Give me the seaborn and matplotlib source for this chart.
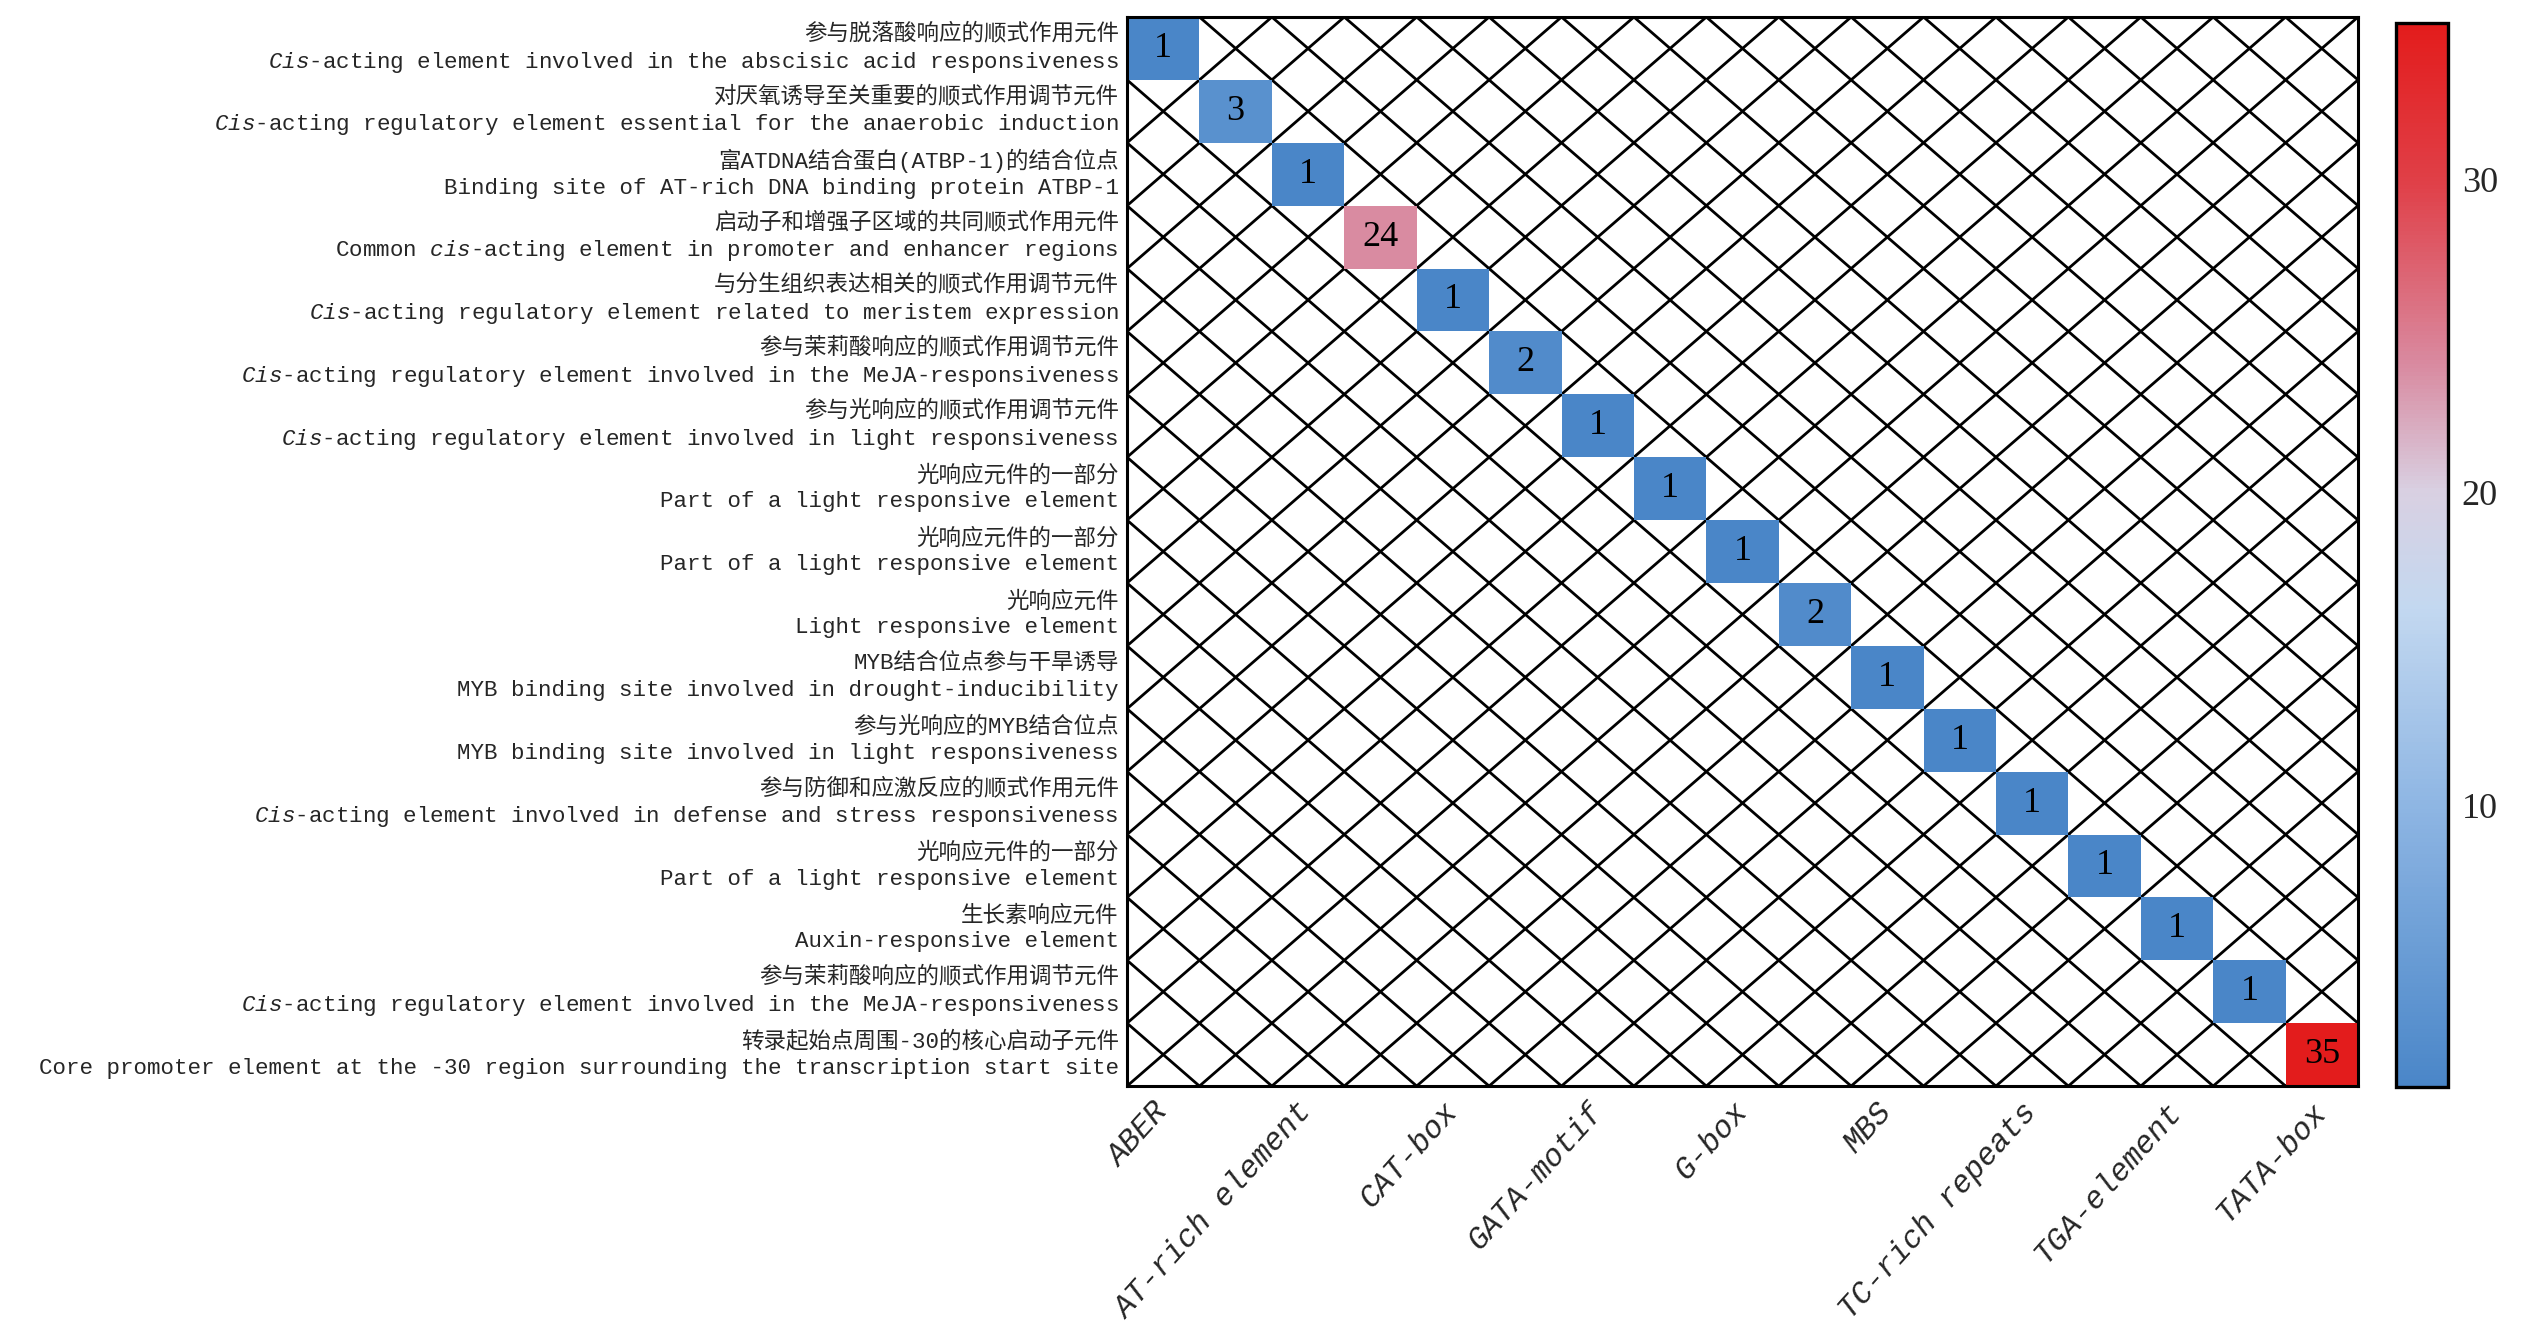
import numpy as np
import pandas as pd
import matplotlib
matplotlib.use("Agg")
import matplotlib.pyplot as plt
import seaborn as sns
from matplotlib.colors import LinearSegmentedColormap

# column names (only every second one is labelled on the x axis)
elements = ["ABER", "ARE", "AT-rich element", "CAAT-box", "CAT-box",
            "CGTCA-motif", "GATA-motif", "G-Box", "G-box", "GT1-motif",
            "MBS", "MRE", "TC-rich repeats", "TCT-motif", "TGA-element",
            "TGACG-motif", "TATA-box"]

counts = [1, 3, 1, 24, 1, 2, 1, 1, 1, 2, 1, 1, 1, 1, 1, 1, 35]

desc_cn = ["参与脱落酸响应的顺式作用元件",
           "对厌氧诱导至关重要的顺式作用调节元件",
           "富ATDNA结合蛋白(ATBP-1)的结合位点",
           "启动子和增强子区域的共同顺式作用元件",
           "与分生组织表达相关的顺式作用调节元件",
           "参与茉莉酸响应的顺式作用调节元件",
           "参与光响应的顺式作用调节元件",
           "光响应元件的一部分",
           "光响应元件的一部分",
           "光响应元件",
           "MYB结合位点参与干旱诱导",
           "参与光响应的MYB结合位点",
           "参与防御和应激反应的顺式作用元件",
           "光响应元件的一部分",
           "生长素响应元件",
           "参与茉莉酸响应的顺式作用调节元件",
           "转录起始点周围-30的核心启动子元件"]

desc_en = [r"$\mathit{Cis}$-acting element involved in the abscisic acid responsiveness",
           r"$\mathit{Cis}$-acting regulatory element essential for the anaerobic induction",
           "Binding site of AT-rich DNA binding protein ATBP-1",
           r"Common $\mathit{cis}$-acting element in promoter and enhancer regions",
           r"$\mathit{Cis}$-acting regulatory element related to meristem expression",
           r"$\mathit{Cis}$-acting regulatory element involved in the MeJA-responsiveness",
           r"$\mathit{Cis}$-acting regulatory element involved in light responsiveness",
           "Part of a light responsive element",
           "Part of a light responsive element",
           "Light responsive element",
           "MYB binding site involved in drought-inducibility",
           "MYB binding site involved in light responsiveness",
           r"$\mathit{Cis}$-acting element involved in defense and stress responsiveness",
           "Part of a light responsive element",
           "Auxin-responsive element",
           r"$\mathit{Cis}$-acting regulatory element involved in the MeJA-responsiveness",
           "Core promoter element at the -30 region surrounding the transcription start site"]

row_labels = [c + "\n" + e for c, e in zip(desc_cn, desc_en)]

# one element per row, everything else empty
mat = np.full((len(row_labels), len(elements)), np.nan)
for i, v in enumerate(counts):
    mat[i, i] = v
df = pd.DataFrame(mat, index=row_labels, columns=elements)

sns.set_style("white")
plt.rcParams['font.family'] = ['Liberation Mono', 'Noto Sans CJK SC']
plt.rcParams['mathtext.fontset'] = 'custom'
plt.rcParams['mathtext.rm'] = 'Liberation Mono'
plt.rcParams['mathtext.it'] = 'Liberation Mono:italic'

cmap = LinearSegmentedColormap.from_list("bwr_soft", [
    (0.0, "#4a86c8"),
    (0.26, "#8db5e3"),
    (0.45, "#c3d8f0"),
    (0.56, "#d9d0e2"),
    (0.68, "#d98aa0"),
    (0.85, "#e04048"),
    (1.0, "#e31c1c")])

fig = plt.figure(figsize=(2547 / 200, 1329 / 200), dpi=200)
ax = fig.add_axes([0.4425, 0.1828, 0.4833, 0.8044])
cax = fig.add_axes([0.9407, 0.1821, 0.0204, 0.8006])

sns.heatmap(df, ax=ax, cbar_ax=cax, cmap=cmap, vmin=1, vmax=35,
            annot=True, fmt=".0f",
            annot_kws={"color": "black", "family": "Liberation Serif", "size": 13},
            xticklabels=2, yticklabels=True,
            cbar_kws={"ticks": [10, 20, 30]})

# diagonal cross lines through every cell corner
nr, nc = df.shape
for k in range(-nc, nr + 1):
    ax.axline((k, 0), slope=1, color="black", lw=1.0, zorder=0.5)
for k in range(0, nr + nc + 1):
    ax.axline((k, 0), slope=-1, color="black", lw=1.0, zorder=0.5)
ax.set_xlim(0, nc)
ax.set_ylim(nr, 0)

for s in ax.spines.values():
    s.set_visible(True)
    s.set_color("black")
    s.set_linewidth(1.1)

ax.tick_params(axis="y", length=0, pad=3, labelsize=8.1)
ax.tick_params(axis="x", length=2.5, width=0.8, pad=5, labelsize=11.2)
for lbl in ax.get_yticklabels():
    lbl.set_linespacing(1.3)
    lbl.set_rotation(0)
for lbl in ax.get_xticklabels():
    lbl.set_rotation(48)
    lbl.set_ha("right")
    lbl.set_va("center")
    lbl.set_rotation_mode("anchor")
    lbl.set_fontstyle("italic")
ax.set_xlabel("")
ax.set_ylabel("")

cbar = ax.collections[0].colorbar
cbar.outline.set_edgecolor("black")
cbar.outline.set_linewidth(1.2)
cax.tick_params(direction="in", left=True, right=True, length=4.5, width=0.8,
                pad=5, labelsize=13)
for lbl in cax.get_yticklabels():
    lbl.set_family("Liberation Serif")

fig.savefig("out.png", dpi=200)
